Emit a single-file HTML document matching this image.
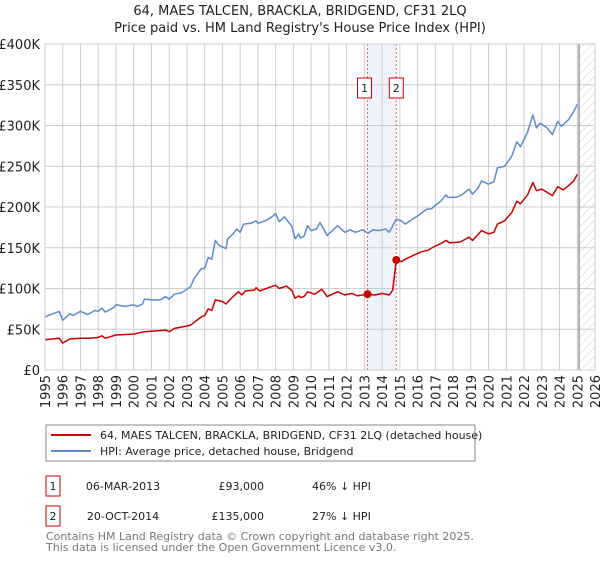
<!DOCTYPE html>
<html><head><meta charset="utf-8"><style>
body{margin:0;background:#fff;font-family:"Liberation Sans","DejaVu Sans",sans-serif;}
svg text{font-family:"DejaVu Sans","Liberation Sans",sans-serif;}
</style></head><body>
<svg id="c" width="600" height="560" viewBox="0 0 600 560" xmlns="http://www.w3.org/2000/svg">
<defs><pattern id="hatch" patternUnits="userSpaceOnUse" width="6" height="6" patternTransform="rotate(45)"><line x1="0" y1="0" x2="0" y2="6" stroke="#ccc" stroke-width="1"/></pattern></defs>
<text x="300" y="15" text-anchor="middle" font-size="13" fill="#222">64, MAES TALCEN, BRACKLA, BRIDGEND, CF31 2LQ</text>
<text x="300" y="32" text-anchor="middle" font-size="13" fill="#222">Price paid vs. HM Land Registry's House Price Index (HPI)</text>
<g id="grid"></g><g id="marks"></g><g id="axes"></g>
<g>
<rect x="46" y="425" width="429" height="36" fill="#fff" stroke="#888"/>
<line x1="51" y1="435" x2="91" y2="435" stroke="#cc0000" stroke-width="2"/>
<text x="100" y="439" font-size="11" fill="#222">64, MAES TALCEN, BRACKLA, BRIDGEND, CF31 2LQ (detached house)</text>
<line x1="51" y1="451" x2="91" y2="451" stroke="#5b8bd0" stroke-width="2"/>
<text x="100" y="455" font-size="11" fill="#222">HPI: Average price, detached house, Bridgend</text>
</g>
<g font-size="11" fill="#222">
<rect x="46" y="476" width="14" height="20" fill="#fff" stroke="#cc0000"/>
<text x="53" y="490" text-anchor="middle">1</text>
<text x="123" y="490" text-anchor="middle">06-MAR-2013</text>
<text x="264" y="490" text-anchor="end">£93,000</text>
<text x="312" y="490">46% ↓ HPI</text>
</g>
<g font-size="11" fill="#222">
<rect x="46" y="506" width="14" height="20" fill="#fff" stroke="#cc0000"/>
<text x="53" y="520" text-anchor="middle">2</text>
<text x="123" y="520" text-anchor="middle">20-OCT-2014</text>
<text x="264" y="520" text-anchor="end">£135,000</text>
<text x="312" y="520">27% ↓ HPI</text>
</g>
<text x="46" y="540" font-size="11" fill="#777">Contains HM Land Registry data © Crown copyright and database right 2025.</text>
<text x="46" y="551" font-size="11" fill="#777">This data is licensed under the Open Government Licence v3.0.</text>
</svg>
<script>
const hpiYears=[1995,1995.2,1995.8,1996,1996.4,1996.6,1997,1997.4,1997.8,1998,1998.2,1998.4,1998.9,1999,1999.5,2000,2000.2,2000.5,2000.6,2001,2001.5,2001.8,2002,2002.3,2002.7,2003,2003.2,2003.4,2003.8,2004,2004.2,2004.4,2004.6,2004.8,2005,2005.2,2005.3,2005.6,2005.8,2006,2006.2,2006.6,2006.9,2007,2007.4,2007.8,2008,2008.2,2008.5,2008.7,2008.9,2009.1,2009.3,2009.4,2009.6,2009.8,2010,2010.3,2010.5,2010.9,2011.2,2011.5,2011.9,2012.2,2012.5,2012.9,2013.2,2013.5,2013.8,2014.2,2014.4,2014.8,2015.1,2015.3,2015.7,2016,2016.5,2016.8,2017,2017.3,2017.6,2017.7,2018.2,2018.5,2018.9,2019.1,2019.4,2019.6,2020,2020.3,2020.5,2020.9,2021.3,2021.6,2021.8,2022.2,2022.5,2022.7,2022.9,2023.3,2023.6,2023.9,2024.1,2024.5,2024.8,2025];
const hpiValues=[65,67,72,61,69,67,72,68,73,72,76,71,77,80,78,80,78,81,87,86,86,90,87,93,95,99,102,112,124,125,138,136,159,153,151,149,161,167,173,169,179,180,183,180,183,188,192,182,188,182,177,161,167,162,164,177,171,173,181,165,171,177,169,172,169,172,168,172,171,173,169,185,183,179,185,189,197,198,202,207,215,212,212,215,222,216,223,232,228,231,248,250,262,280,274,292,313,297,303,297,289,305,299,307,317,326];
const ppYears=[1995,1995.8,1996,1996.4,1997,1997.5,1998,1998.2,1998.4,1999,2000,2000.6,2001.8,2002,2002.3,2003,2003.2,2003.8,2004,2004.2,2004.4,2004.6,2005,2005.2,2005.5,2005.9,2006.1,2006.3,2006.8,2006.9,2007.1,2007.6,2008,2008.2,2008.6,2008.9,2009.1,2009.3,2009.4,2009.6,2009.8,2010.2,2010.6,2010.9,2011.5,2011.9,2012.3,2012.6,2013.18,2013.6,2014,2014.4,2014.6,2014.8,2015.1,2015.3,2015.8,2016.2,2016.6,2016.9,2017.3,2017.6,2017.8,2018.4,2018.9,2019.1,2019.6,2020,2020.3,2020.5,2020.9,2021.3,2021.6,2021.8,2022.2,2022.5,2022.7,2023,2023.3,2023.6,2023.9,2024.2,2024.5,2024.8,2025];
const ppValues=[37,39,33,38,39,39,40,42,39,43,44,47,49,47,51,54,55,65,67,75,73,86,84,81,88,96,92,97,98,101,97,101,104,100,103,98,88,91,89,90,96,93,99,90,96,92,94,91,93,92,94,92,98,135,133,136,141,145,147,151,155,159,156,157,163,159,171,167,169,179,183,193,207,204,215,230,220,222,218,214,225,221,226,232,240];
const saleYears=[2013.18,2014.8];
const saleValues=[93,135];
const saleLabels=["1","2"];
const yTicks=[0,50,100,150,200,250,300,350,400];
const yTickLabels=["£0","£50K","£100K","£150K","£200K","£250K","£300K","£350K","£400K"];
const xTicks=[1995,1996,1997,1998,1999,2000,2001,2002,2003,2004,2005,2006,2007,2008,2009,2010,2011,2012,2013,2014,2015,2016,2017,2018,2019,2020,2021,2022,2023,2024,2025,2026];
const X0=45,X1=595,Y0=370,Y1=44;
const xs=y=>X0+(y-1995)/(2026-1995)*(X1-X0);
const ys=v=>Y0-v/400*(Y0-Y1);
const NS="http://www.w3.org/2000/svg";
function mk(p,t,a){const e=document.createElementNS(NS,t);for(const k in a)e.setAttribute(k,a[k]);p.appendChild(e);return e;}
const grid=document.getElementById('grid'),marks=document.getElementById('marks'),axes=document.getElementById('axes');
// shaded region
let sh=mk(grid,'rect',{x:xs(saleYears[0]),y:Y1,width:xs(saleYears[1])-xs(saleYears[0]),height:Y0-Y1,fill:'#eef3fc'});


yTicks.forEach((t,i)=>{
 let l=mk(grid,'line',{x1:X0,x2:X1,y1:ys(t),y2:ys(t),stroke:'#ccc','stroke-width':1});
 
 
 let tx=mk(axes,'text',{x:40,y:ys(t)+5,'text-anchor':'end','font-size':13,fill:'#222'});
 tx.textContent=yTickLabels[i];
 
 
});
xTicks.forEach(t=>{
 let l=mk(grid,'line',{x1:xs(t),x2:xs(t),y1:Y1,y2:Y0,stroke:'#ccc','stroke-width':1});
 
 
 let tx=mk(axes,'text',{x:0,y:0,'font-size':13,fill:'#222','text-anchor':'end',transform:`translate(${xs(t)+5},375) rotate(-90)`});
 tx.textContent=t;
 
 
});
// future hatch
const fx=xs(2025.1);
let h=mk(grid,'rect',{x:fx,y:Y1,width:X1-fx,height:Y0-Y1,fill:'url(#hatch)'});


let fl=mk(grid,'line',{x1:fx,x2:fx,y1:Y1,y2:Y0,stroke:'#999','stroke-width':1.5});


saleYears.forEach((s,i)=>{
 let l=mk(marks,'line',{x1:xs(s),x2:xs(s),y1:Y1,y2:Y0,stroke:'#e06060','stroke-width':1,'stroke-dasharray':'2,2'});
 
 
});
function line(xa,va,col,name){
 let d=xa.map((x,i)=>(i?'L':'M')+xs(x).toFixed(1)+','+ys(va[i]).toFixed(1)).join('');
 let p=mk(marks,'path',{d:d,fill:'none',stroke:col,'stroke-width':1.5,'stroke-linejoin':'round'});
 
 
}
line(hpiYears,hpiValues,'#5b8bd0','hpi-line');
line(ppYears,ppValues,'#cc0000','price-paid-line');
saleYears.forEach((s,i)=>{
 let c=mk(marks,'circle',{cx:xs(s),cy:ys(saleValues[i]),r:4,fill:'#cc0000'});
 
 
 let g=mk(marks,'g',{});
 
 
 mk(g,'rect',{x:xs(s)-7-(i==0?3:0),y:78,width:14,height:20,fill:'#fff',stroke:'#cc0000'});
 let t=mk(g,'text',{x:xs(s)-(i==0?3:0),y:92,'text-anchor':'middle','font-size':11,fill:'#222'});
 t.textContent=saleLabels[i];
});
let fr=mk(axes,'rect',{x:X0,y:Y1,width:X1-X0,height:Y0-Y1,fill:'none',stroke:'#ccc'});


</script>
</body></html>
